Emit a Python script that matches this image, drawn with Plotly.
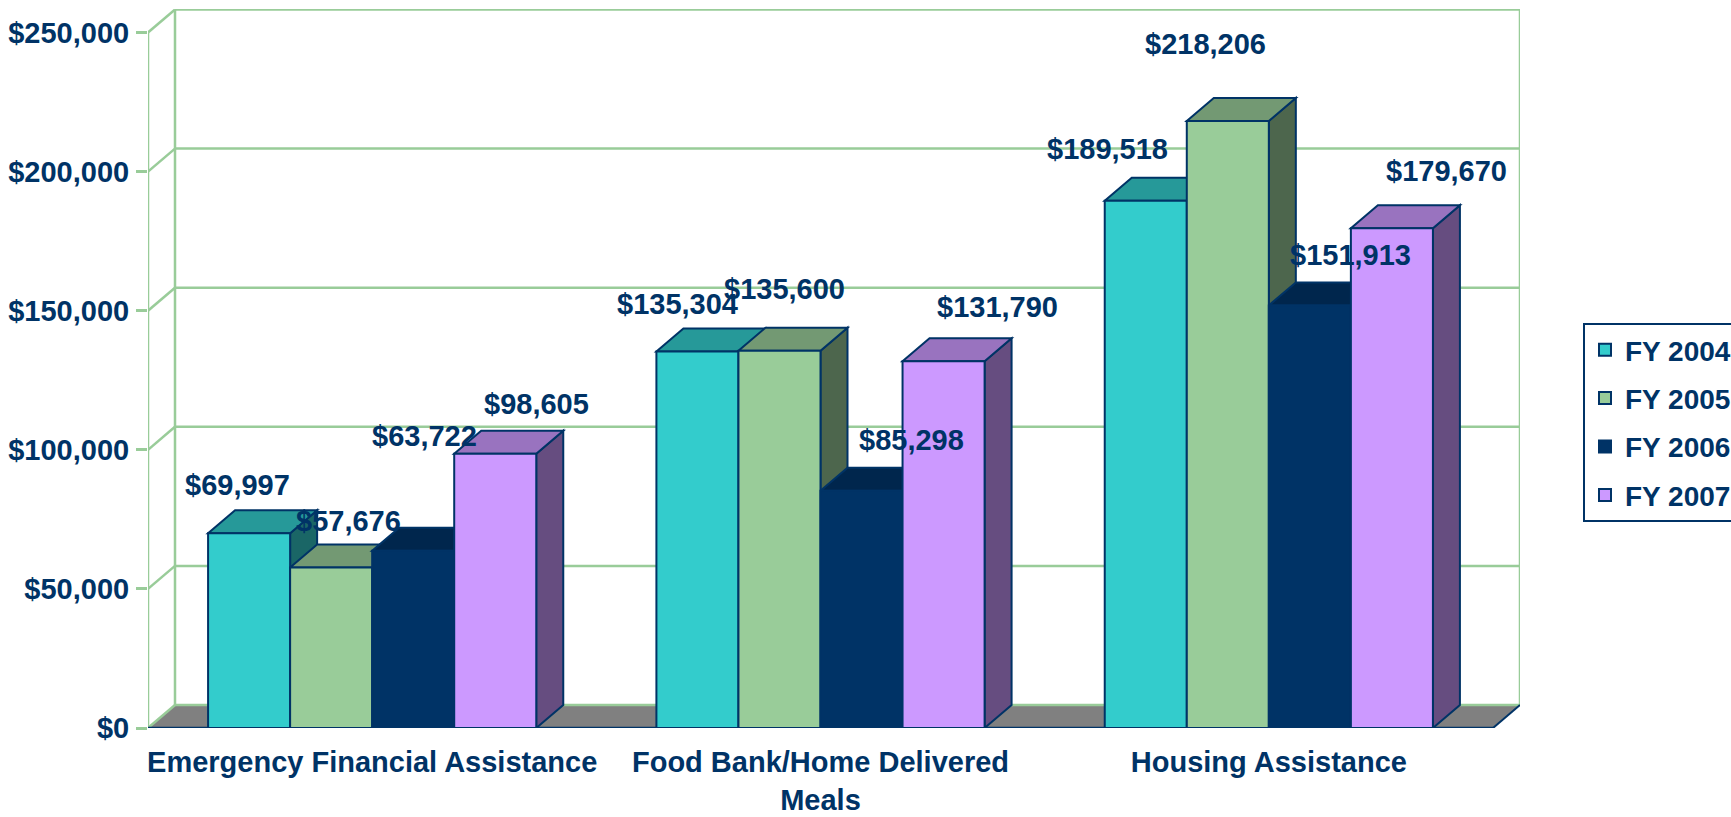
import plotly.graph_objects as go

# ---------------- data ----------------
categories = ["Emergency Financial Assistance", "Food Bank/Home Delivered Meals", "Housing Assistance"]
tick_text = ["Emergency Financial Assistance", "Food Bank/Home Delivered<br>Meals", "Housing Assistance"]
series_names = ["FY 2004", "FY 2005", "FY 2006", "FY 2007"]
fy2004 = [69997, 135304, 189518]
fy2005 = [57676, 135600, 218206]
fy2006 = [63722, 85298, 151913]
fy2007 = [98605, 131790, 179670]
y_ticks = [0, 50000, 100000, 150000, 200000, 250000]
y_tick_text = [f"${v:,}" for v in y_ticks]

# ---------------- styles / geometry ----------------
front_colors = ["#33CCCC", "#99CC99", "#003366", "#CC99FF"]
top_colors = ["#269999", "#739973", "#00264D", "#9973BF"]
side_colors = ["#1A6666", "#4D664D", "#001A33", "#664D80"]
NAVY = "#003366"
GRID = "#99CC99"
FLOOR = "#808080"
FONT = "Liberation Sans, Arial, sans-serif"
FS = 29

W, H = 1731, 817
ML, MR, MT, MB = 148, 211, 9, 89
DEPTH_PX_X, DEPTH_PX_Y = 27, 23
PX_PER_Y = 695.5 / 250000
plot_w = W - ML - MR
plot_h = H - MT - MB
PX_PER_X = (plot_w - DEPTH_PX_X) / 3.0
D = DEPTH_PX_X / PX_PER_X
DY = DEPTH_PX_Y / PX_PER_Y
YMAX = plot_h / PX_PER_Y
BARGAP = 0.268
BW = (1 - BARGAP) / 4

# label offsets in pixels (dx, dy up), per series per category
label_dx = [[-12, -20, -38], [17, 5, -22], [11, 50, 41], [41, 54, 55]]
label_dy = [[48, 48, 52], [47, 62, 77], [115, 51, 50], [50, 54, 57]]

series_vals = [fy2004, fy2005, fy2006, fy2007]
xs = list(range(len(categories)))

fig = go.Figure()
for i, (name, vals) in enumerate(zip(series_names, series_vals)):
    fig.add_trace(go.Bar(
        x=xs, y=vals, name=name,
        marker=dict(color=front_colors[i], line=dict(color=NAVY, width=2)),
        legendgroup=name,
    ))

shapes = []
x0, x1 = -0.5, 2.5
# floor
shapes.append(dict(type="path", xref="x", yref="y", layer="below",
                   path=f"M{x0},0 L{x1},0 L{x1 + D},{DY} L{x0 + D},{DY} Z",
                   fillcolor=FLOOR, line=dict(width=0)))
# back wall gridlines + left diagonals
for v in y_ticks:
    shapes.append(dict(type="line", xref="x", yref="y", layer="below",
                       x0=x0 + D, x1=x1 + D, y0=v + DY, y1=v + DY,
                       line=dict(color=GRID, width=2.5)))
    shapes.append(dict(type="line", xref="x", yref="y", layer="below",
                       x0=x0, x1=x0 + D, y0=v, y1=v + DY,
                       line=dict(color=GRID, width=2.5)))
# back wall verticals and front left axis
for xx in (x0 + D, x1 + D):
    shapes.append(dict(type="line", xref="x", yref="y", layer="below",
                       x0=xx, x1=xx, y0=DY, y1=y_ticks[-1] + DY,
                       line=dict(color=GRID, width=2.5)))
shapes.append(dict(type="line", xref="x", yref="y", layer="below",
                   x0=x0, x1=x0, y0=0, y1=y_ticks[-1],
                   line=dict(color=GRID, width=2.5)))
# floor front edge and right edge (navy)
shapes.append(dict(type="line", xref="x", yref="y", layer="below",
                   x0=x0, x1=x1, y0=0, y1=0, line=dict(color=NAVY, width=2.5)))
shapes.append(dict(type="line", xref="x", yref="y", layer="below",
                   x0=x1, x1=x1 + D, y0=0, y1=DY, line=dict(color=NAVY, width=2)))
# category boundary ticks
for b in [x0 + k for k in range(len(categories) + 1)]:
    shapes.append(dict(type="line", xref="x", yref="y", ysizemode="pixel", yanchor=0,
                       x0=b, x1=b, y0=0, y1=-12, line=dict(color=NAVY, width=2.5)))

# 3D side and top faces, computed from the values
for g in xs:
    for i, vals in enumerate(series_vals):
        h = vals[g]
        xc = g + (i - 1.5) * BW
        xl, xr = xc - BW / 2, xc + BW / 2
        shapes.append(dict(type="path", xref="x", yref="y", layer="below",
                           path=f"M{xr},0 L{xr},{h} L{xr + D},{h + DY} L{xr + D},{DY} Z",
                           fillcolor=side_colors[i], line=dict(color=NAVY, width=2)))
        shapes.append(dict(type="path", xref="x", yref="y", layer="below",
                           path=f"M{xl},{h} L{xr},{h} L{xr + D},{h + DY} L{xl + D},{h + DY} Z",
                           fillcolor=top_colors[i], line=dict(color=NAVY, width=2)))

annotations = []
for i, vals in enumerate(series_vals):
    for g in xs:
        annotations.append(dict(
            x=g + (i - 1.5) * BW, y=vals[g], xref="x", yref="y",
            text=f"${vals[g]:,}", showarrow=False,
            xanchor="center", yanchor="middle",
            xshift=label_dx[i][g], yshift=label_dy[i][g],
            font=dict(family=FONT, size=FS, color=NAVY, weight="bold"),
        ))

fig.update_layout(
    width=W, height=H,
    margin=dict(l=ML, r=MR, t=MT, b=MB, autoexpand=False),
    paper_bgcolor="white", plot_bgcolor="rgba(0,0,0,0)",
    barmode="group", bargap=BARGAP, bargroupgap=0,
    shapes=shapes, annotations=annotations,
    showlegend=True,
    legend=dict(
        x=(1583 - ML) / plot_w, y=(H - MB - 323) / plot_h, xanchor="left", yanchor="top",
        bordercolor=NAVY, borderwidth=2, bgcolor="white",
        font=dict(family=FONT, size=FS - 1, color=NAVY, weight="bold"),
        traceorder="grouped", tracegroupgap=9,
    ),
    xaxis=dict(
        range=[x0, x1 + D], tickvals=xs, ticktext=tick_text,
        showgrid=False, zeroline=False, showline=False, ticks="",
        tickfont=dict(family=FONT, size=FS, color=NAVY, weight="bold"),
        ticklabelstandoff=14, fixedrange=True,
    ),
    yaxis=dict(
        range=[0, YMAX], tickvals=y_ticks, ticktext=y_tick_text,
        showgrid=False, zeroline=False, showline=False,
        ticks="outside", ticklen=11, tickwidth=2.5, tickcolor=GRID,
        tickfont=dict(family=FONT, size=FS, color=NAVY, weight="bold"),
        ticklabelstandoff=1, fixedrange=True,
    ),
)

fig.write_html(
    "out.html",
    config={"displayModeBar": False},
    post_script="document.body.style.margin='0';document.body.style.overflow='hidden';",
)
